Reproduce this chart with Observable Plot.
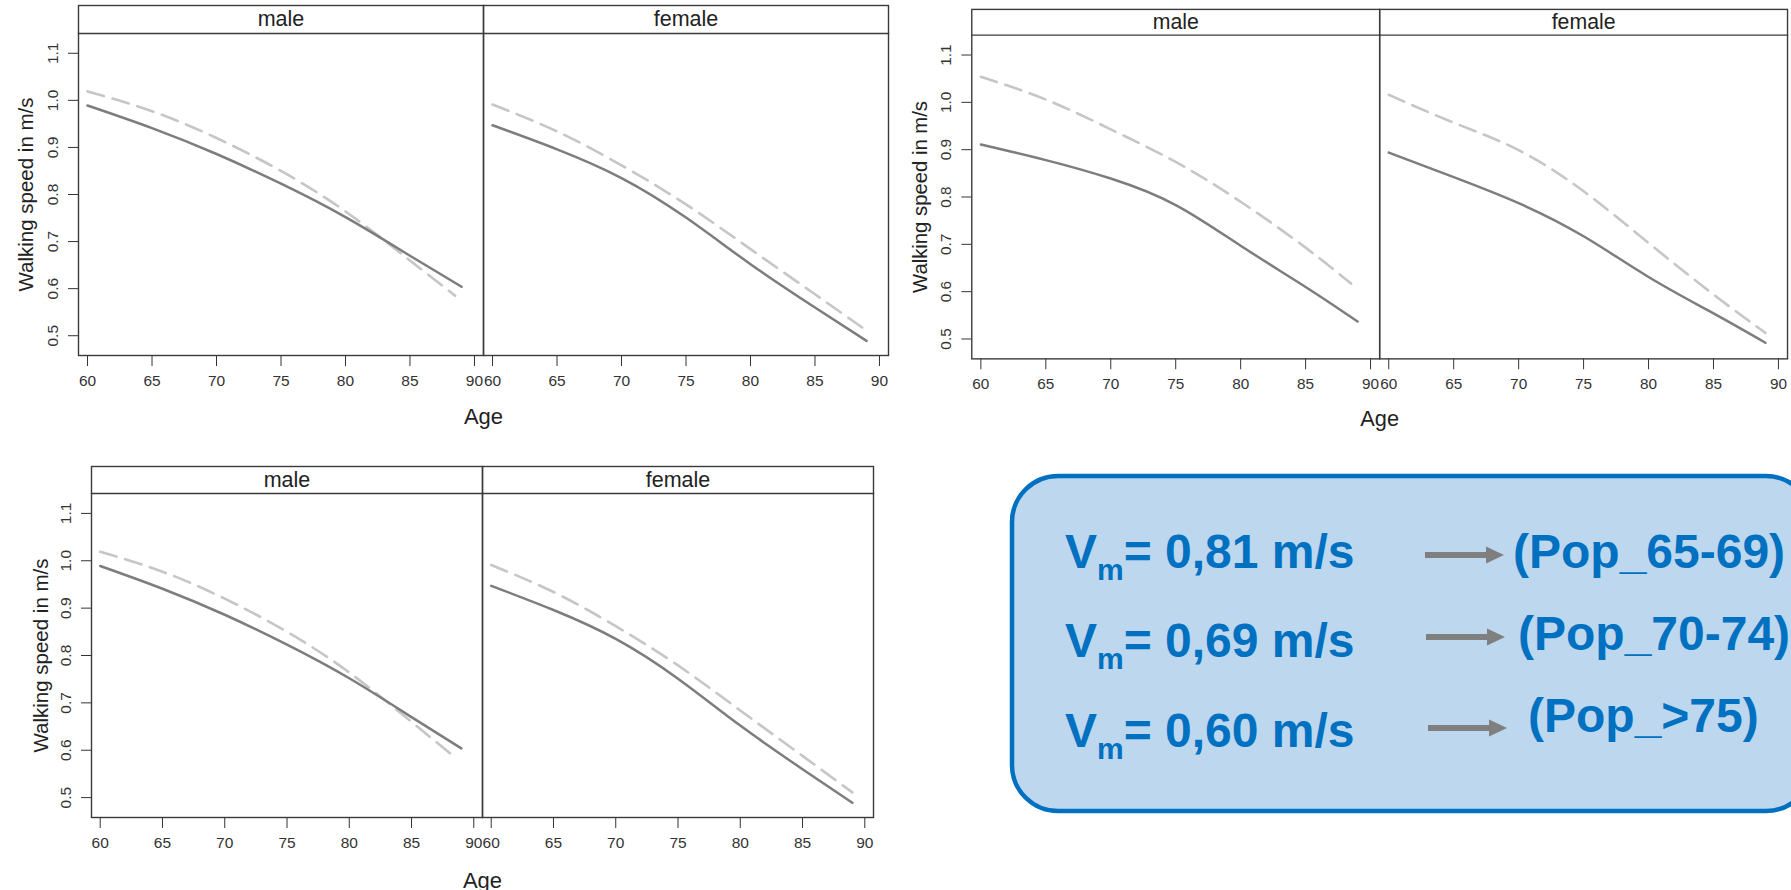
<!DOCTYPE html>
<html>
<head>
<meta charset="utf-8">
<script src="https://cdn.jsdelivr.net/npm/d3@7"></script>
<script src="https://cdn.jsdelivr.net/npm/@observablehq/plot@0.6"></script>
<style>
  html, body { margin: 0; padding: 0; background: #fff; }
  body { width: 1791px; height: 890px; overflow: hidden; position: relative;
         font-family: "Liberation Sans", Arial, Helvetica, sans-serif; }
  .panel { position: absolute; }
  .panel svg { overflow: visible; }
</style>
</head>
<body>
<div id="p1" class="panel" style="left:0px; top:0px;"></div>
<div id="p2" class="panel" style="left:900px; top:0px;"></div>
<div id="p3" class="panel" style="left:0px; top:440px;"></div>
<div id="box" class="panel" style="left:1000px; top:460px;"></div>
<script>
// ---------------- data ----------------
const sexes = ["male", "female"];
const xTicks = [60, 65, 70, 75, 80, 85, 90];
const yTicks = [0.5, 0.6, 0.7, 0.8, 0.9, 1.0, 1.1];

const agesSolid = [60, 65, 70, 75, 80, 85, 89];
const agesDashedMale = [60, 65, 70, 75, 80, 85, 88.5];
const agesDashedFemale = [60, 65, 70, 75, 80, 85, 89];

// Figure A (top-left panel, repeated bottom-left)
const aMaleSolid    = [0.989, 0.941, 0.886, 0.823, 0.752, 0.670, 0.604];
const aMaleDashed   = [1.019, 0.977, 0.920, 0.850, 0.764, 0.660, 0.585];
const aFemaleSolid  = [0.947, 0.896, 0.835, 0.751, 0.652, 0.560, 0.489];
const aFemaleDashed = [0.991, 0.934, 0.862, 0.779, 0.684, 0.588, 0.511];

// Figure B (top-right panel)
const bMaleSolid    = [0.911, 0.878, 0.839, 0.783, 0.697, 0.610, 0.537];
const bMaleDashed   = [1.054, 1.006, 0.943, 0.874, 0.790, 0.693, 0.617];
const bFemaleSolid  = [0.894, 0.842, 0.787, 0.717, 0.631, 0.554, 0.492];
const bFemaleDashed = [1.016, 0.957, 0.899, 0.812, 0.703, 0.594, 0.513];

// Info box
const vmValues  = ["0,81", "0,69", "0,60"];
const popLabels = ["(Pop_65-69)", "(Pop_70-74)", "(Pop_>75)"];

// ---------------- helpers ----------------
function series(sex, kind, ages, vals) {
  return ages.map((a, i) => ({sex, kind, age: a, speed: vals[i]}));
}
function figureData(ms, md, fs, fd) {
  return [
    ...series("male", "solid", agesSolid, ms),
    ...series("male", "dashed", agesDashedMale, md),
    ...series("female", "solid", agesSolid, fs),
    ...series("female", "dashed", agesDashedFemale, fd)
  ];
}
const dataA = figureData(aMaleSolid, aMaleDashed, aFemaleSolid, aFemaleDashed);
const dataB = figureData(bMaleSolid, bMaleDashed, bFemaleSolid, bFemaleDashed);

const FONT = "Liberation Sans, Arial, Helvetica, sans-serif";

function panel(el, L) {
  const chart = Plot.plot({
    width: L.width, height: L.height,
    marginLeft: L.ml, marginRight: L.mr, marginTop: L.mt, marginBottom: L.mb,
    style: {fontFamily: FONT, fontSize: "15.5px", color: "#333", background: "transparent", overflow: "visible"},
    fx: {domain: sexes, padding: 0, axis: null},
    x: {domain: [59.3, 90.7], ticks: xTicks, tickSize: 11, tickPadding: 8, label: null},
    y: {domain: [0.458, 1.142], ticks: yTicks, tickSize: 10, tickPadding: 11, tickRotate: -90,
        tickFormat: d3.format(".1f"), label: null},
    marks: [
      Plot.frame({insetTop: -L.strip, stroke: "#3a3a3a", strokeWidth: 1.4}),
      Plot.frame({anchor: "top", stroke: "#3a3a3a", strokeWidth: 1.4}),
      Plot.text(sexes, {fx: d => d, text: d => d, frameAnchor: "top", lineAnchor: "middle",
                        dy: -L.strip / 2, fontSize: 21.5, fill: "#222"}),
      Plot.line(L.data.filter(d => d.kind === "dashed"), {
        fx: "sex", x: "age", y: "speed", curve: "natural",
        stroke: "#c6c6c6", strokeWidth: 2.6, strokeDasharray: "17,9"}),
      Plot.line(L.data.filter(d => d.kind === "solid"), {
        fx: "sex", x: "age", y: "speed", curve: "natural",
        stroke: "#7d7d7d", strokeWidth: 2.5}),
      Plot.text(["Age"], {fx: () => "male", frameAnchor: "bottom-right", textAnchor: "middle",
                          lineAnchor: "middle", dy: L.ageDy, fontSize: 22, fill: "#222"}),
      Plot.text(["Walking speed in m/s"], {fx: () => "male", frameAnchor: "left", rotate: -90,
                          textAnchor: "middle", lineAnchor: "middle",
                          dx: -L.ylabDx, fontSize: 20.5, fill: "#222"})
    ]
  });
  document.getElementById(el).appendChild(chart);
  return chart;
}

panel("p1", {width: 900, height: 430, ml: 77, mr: 12, mt: 33, mb: 75, strip: 28,
             data: dataA, ageDy: 61, ylabDx: 52});
panel("p2", {width: 900, height: 437, ml: 72, mr: 4, mt: 35, mb: 75, strip: 26,
             data: dataB, ageDy: 61, ylabDx: 52});
panel("p3", {width: 885, height: 452, ml: 90, mr: 12, mt: 53, mb: 75, strip: 27,
             data: dataA, ageDy: 63, ylabDx: 50});

// ---------------- info box ----------------
(function infoBox() {
  const svg = d3.select("#box").append("svg")
    .attr("width", 791).attr("height", 430)
    .style("font-family", FONT).style("font-weight", "bold");
  svg.append("rect")
    .attr("x", 12).attr("y", 16).attr("width", 800).attr("height", 335)
    .attr("rx", 46).attr("ry", 46)
    .attr("fill", "#bdd7ee").attr("stroke", "#0070c0").attr("stroke-width", 4.5);
  const leftBase  = [108, 197, 287];
  const rightBase = [108, 190, 272];
  const rightX    = [513, 518, 528];
  const arrowY    = [95, 177, 268];
  const arrowX    = [425, 426, 428];
  vmValues.forEach((v, i) => {
    const t = svg.append("text").attr("x", 65).attr("y", leftBase[i])
      .attr("fill", "#0070c0").attr("font-size", 48);
    t.append("tspan").text("V");
    t.append("tspan").attr("font-size", 30).attr("dy", 12).text("m");
    t.append("tspan").attr("dy", -12).text("= " + v + " m/s");
    const ax = arrowX[i], ay = arrowY[i];
    svg.append("line").attr("x1", ax).attr("x2", ax + 63).attr("y1", ay).attr("y2", ay)
      .attr("stroke", "#7f7f7f").attr("stroke-width", 6);
    svg.append("polygon")
      .attr("points", `${ax + 61},${ay - 8.5} ${ax + 79},${ay} ${ax + 61},${ay + 8.5}`)
      .attr("fill", "#7f7f7f");
    svg.append("text").attr("x", rightX[i]).attr("y", rightBase[i])
      .attr("fill", "#0070c0").attr("font-size", 48).text(popLabels[i]);
  });
})();
</script>
</body>
</html>
